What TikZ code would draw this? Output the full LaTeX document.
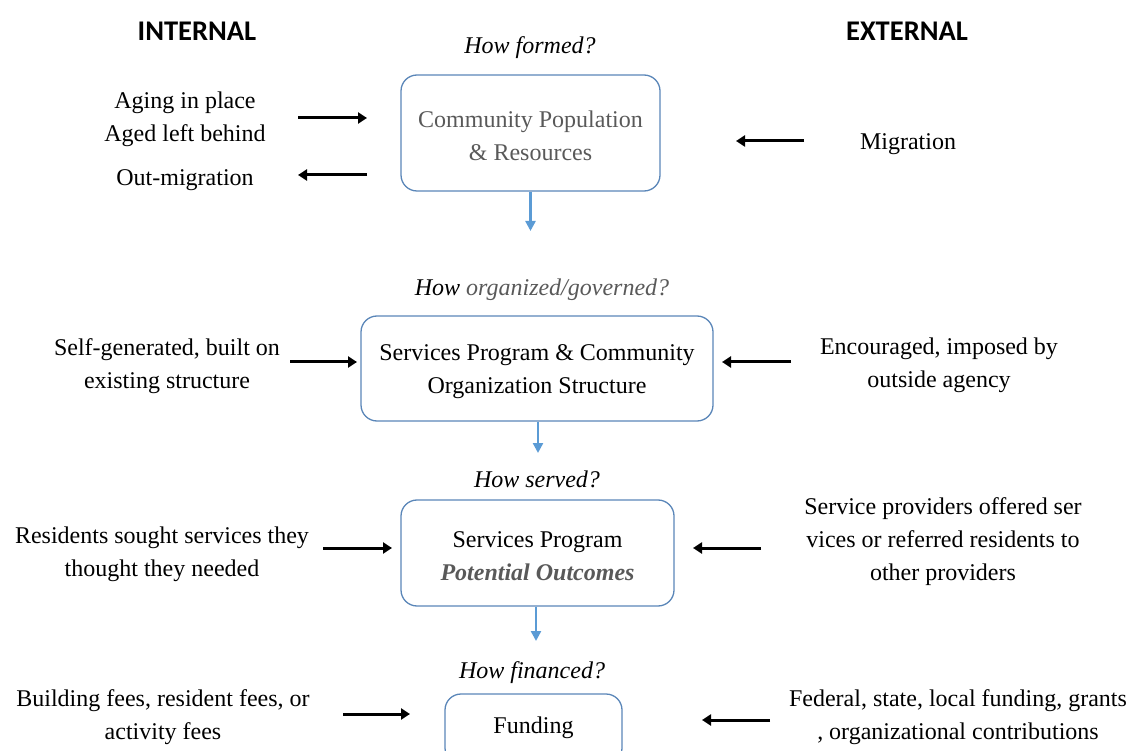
\documentclass[tikz,border=0pt]{standalone}
\usepackage{fontspec}
\setmainfont{Liberation Serif}
\newfontfamily\hdfont{Carlito}
\usetikzlibrary{arrows.meta}
\definecolor{boxblue}{HTML}{5A86B8}
\definecolor{arrblue}{HTML}{5B9BD5}
\definecolor{txtgray}{HTML}{595959}
\tikzset{
  lbl/.style={align=center, inner sep=0pt, font=\fontsize{24}{33}\selectfont, text=black},
  hdr/.style={inner sep=0pt, font=\hdfont\bfseries\fontsize{28.5}{32}\selectfont},
  qst/.style={inner sep=0pt, font=\itshape\fontsize{24}{30}\selectfont},
  stage/.style={draw=boxblue, line width=1.3pt, rounded corners=16pt, inner sep=0pt},
  blk/.style={line width=3pt, -{Triangle[length=9pt,width=11pt]}},
  blu/.style={draw=arrblue, line width=2.4pt, -{Triangle[length=10pt,width=10pt]}}
}
\begin{document}
\begin{tikzpicture}[x=1pt,y=-1pt]
\useasboundingbox (0,0) rectangle (1133,751);
% headers
\node[hdr] (hint) at (197,31) {INTERNAL};
\node[hdr] (hext) at (907,31) {EXTERNAL};
% questions
\node[qst] (q1) at (530,48) {How formed?};
\node[qst] (q2) at (542,290) {How \textcolor{txtgray}{organized/governed?}};
\node[qst] (q3) at (537,479) {How served?};
\node[qst] (q4) at (532,673) {How financed?};
% stage boxes
\node[stage, minimum width=259pt, minimum height=116pt] (b1) at (530.5,133) {};
\node[stage, minimum width=352pt, minimum height=105pt] (b2) at (537,368.5) {};
\node[stage, minimum width=273pt, minimum height=106pt] (b3) at (537.5,553) {};
\node[stage, minimum width=177pt, minimum height=70pt] (b4) at (533.5,729) {};
\node[lbl, text=txtgray] (b1t) at (530.5,135.5) {Community Population\\\& Resources};
\node[lbl] (b2t) at (537,371.5) {Services Program \& Community\\Organization Structure};
\node[lbl] (b3t) at (537.5,556) {Services Program\\\textcolor{txtgray}{\bfseries\itshape Potential Outcomes}};
\node[lbl] (b4t) at (533.5,728) {Funding};
% blue connectors
\coordinate (c1) at (530.5,231);
\coordinate (c2) at (538,453);
\coordinate (c3) at (536,641);
\draw[blu] (b1.south) -- (c1);
\draw[blu] (b2.south -| c2) -- (c2);
\draw[blu] (b3.south -| c3) -- (c3);
% left texts
\node[lbl] (l1) at (185,119) {Aging in place\\Aged left behind};
\node[lbl] (l1b) at (185,180) {Out-migration};
\node[lbl] (l2) at (167,366.5) {Self-generated, built on\\existing structure};
\node[lbl] (l3) at (162,554) {Residents sought services they\\thought they needed};
\node[lbl] (l4) at (163,717.5) {Building fees, resident fees, or\\activity fees};
% right texts
\node[lbl] (r1) at (908,144) {Migration};
\node[lbl] (r2) at (939,365) {Encouraged, imposed by\\outside agency};
\node[lbl] (r3) at (943,542) {Service providers offered ser\\vices or referred residents to\\other providers};
\node[lbl] (r4) at (958,717.5) {Federal, state, local funding, grants\\, organizational contributions};
% black arrows
\coordinate (a1s) at (298,118); \coordinate (a1e) at (367,118);
\coordinate (a2s) at (367,175); \coordinate (a2e) at (298,175);
\coordinate (a3s) at (804,141); \coordinate (a3e) at (736,141);
\coordinate (a4s) at (290,362); \coordinate (a4e) at (357,362);
\coordinate (a5s) at (791,362); \coordinate (a5e) at (722,362);
\coordinate (a6s) at (323,548); \coordinate (a6e) at (392,548);
\coordinate (a7s) at (761,548); \coordinate (a7e) at (693,548);
\coordinate (a8s) at (343,714); \coordinate (a8e) at (410,714);
\coordinate (a9s) at (770,720); \coordinate (a9e) at (702,720);
\foreach \s/\e in {a1s/a1e,a2s/a2e,a3s/a3e,a4s/a4e,a5s/a5e,a6s/a6e,a7s/a7e,a8s/a8e,a9s/a9e}
  \draw[blk] (\s) -- (\e);
\end{tikzpicture}
\end{document}
